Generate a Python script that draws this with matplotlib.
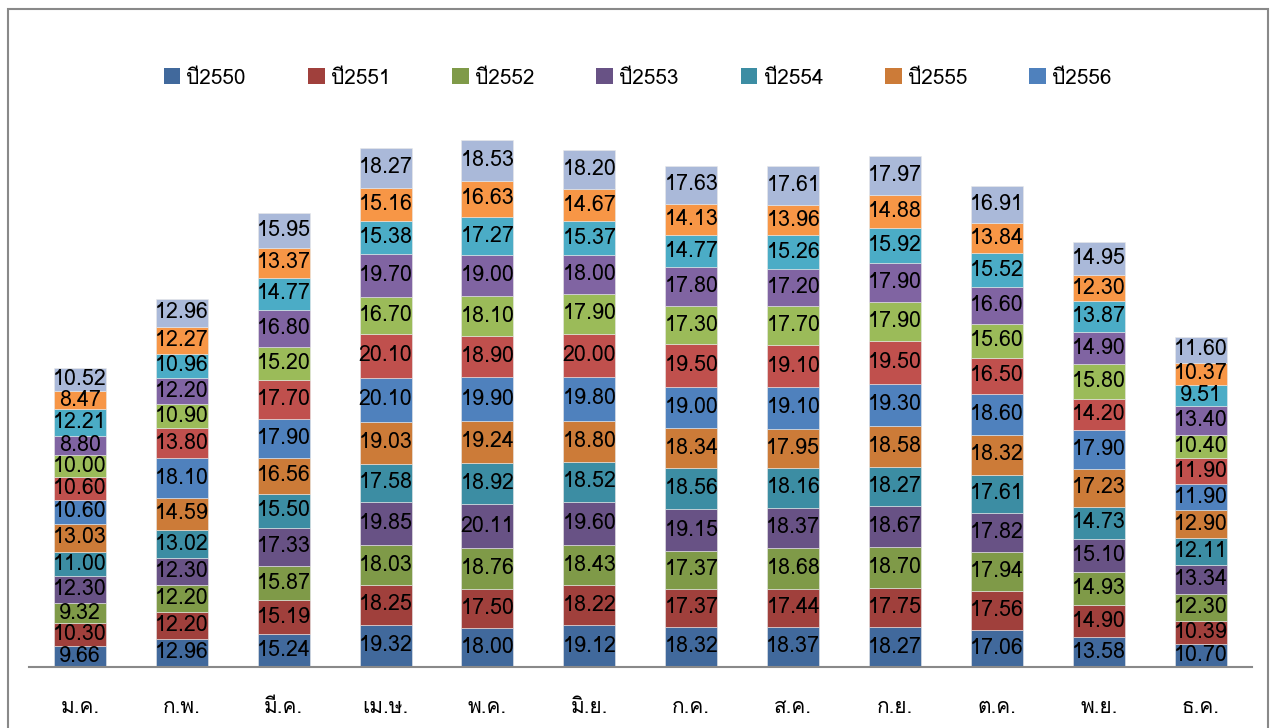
import numpy as np
import matplotlib
matplotlib.use('Agg')
import matplotlib.pyplot as plt
from matplotlib.patches import Patch

plt.rcParams['font.family'] = ['Loma', 'DejaVu Sans']

## data

months = ['ม.ค.', 'ก.พ.', 'มี.ค.', 'เม.ษ.', 'พ.ค.', 'มิ.ย.', 'ก.ค.', 'ส.ค.', 'ก.ย.', 'ต.ค.', 'พ.ย.', 'ธ.ค.']
legend_names = ['ปี2550', 'ปี2551', 'ปี2552', 'ปี2553', 'ปี2554', 'ปี2555', 'ปี2556']

# one row per series (bottom to top of each bar), one column per month
s01 = [9.66, 12.96, 15.24, 19.32, 18.00, 19.12, 18.32, 18.37, 18.27, 17.06, 13.58, 10.70]
s02 = [10.30, 12.20, 15.19, 18.25, 17.50, 18.22, 17.37, 17.44, 17.75, 17.56, 14.90, 10.39]
s03 = [9.32, 12.20, 15.87, 18.03, 18.76, 18.43, 17.37, 18.68, 18.70, 17.94, 14.93, 12.30]
s04 = [12.30, 12.30, 17.33, 19.85, 20.11, 19.60, 19.15, 18.37, 18.67, 17.82, 15.10, 13.34]
s05 = [11.00, 13.02, 15.50, 17.58, 18.92, 18.52, 18.56, 18.16, 18.27, 17.61, 14.73, 12.11]
s06 = [13.03, 14.59, 16.56, 19.03, 19.24, 18.80, 18.34, 17.95, 18.58, 18.32, 17.23, 12.90]
s07 = [10.60, 18.10, 17.90, 20.10, 19.90, 19.80, 19.00, 19.10, 19.30, 18.60, 17.90, 11.90]
s08 = [10.60, 13.80, 17.70, 20.10, 18.90, 20.00, 19.50, 19.10, 19.50, 16.50, 14.20, 11.90]
s09 = [10.00, 10.90, 15.20, 16.70, 18.10, 17.90, 17.30, 17.70, 17.90, 15.60, 15.80, 10.40]
s10 = [8.80, 12.20, 16.80, 19.70, 19.00, 18.00, 17.80, 17.20, 17.90, 16.60, 14.90, 13.40]
s11 = [12.21, 10.96, 14.77, 15.38, 17.27, 15.37, 14.77, 15.26, 15.92, 15.52, 13.87, 9.51]
s12 = [8.47, 12.27, 13.37, 15.16, 16.63, 14.67, 14.13, 13.96, 14.88, 13.84, 12.30, 10.37]
s13 = [10.52, 12.96, 15.95, 18.27, 18.53, 18.20, 17.63, 17.61, 17.97, 16.91, 14.95, 11.60]
series = [s01, s02, s03, s04, s05, s06, s07, s08, s09, s10, s11, s12, s13]

colors = ['#41699C', '#A0403C', '#7F9A48', '#685285', '#3C8DA3', '#CC7B38',
          '#4F81BD', '#C0504D', '#9BBB59', '#8064A2', '#4BACC6', '#F79646', '#AAB9D9']

## plot

fig = plt.figure(figsize=(12.75, 7.28), dpi=100)
ax = fig.add_axes([0.0227, 0.0838, 0.959, 0.751])

x = np.arange(len(months))
bottom = np.zeros(len(months))
for vals, c in zip(series, colors):
    vals = np.array(vals)
    ax.bar(x, vals, width=0.51, bottom=bottom, color=c, edgecolor='#e8e8e8', linewidth=0.4)
    for xi, b, v in zip(x, bottom, vals):
        ax.text(xi, b + v / 2, f'{v:.2f}', ha='center', va='center', fontsize=15.5, color='black')
    bottom += vals

ax.set_xlim(-0.5, 11.5)
ax.set_ylim(0, 250)
ax.set_xticks(x)
ax.set_xticklabels(months, fontsize=15)
ax.tick_params(axis='x', length=0, pad=22)
ax.set_yticks([])
for side in ['left', 'right', 'top']:
    ax.spines[side].set_visible(False)
ax.spines['bottom'].set_color('#898989')
ax.spines['bottom'].set_linewidth(1.5)

handles = [Patch(facecolor=c, edgecolor='none') for c in colors[:7]]
fig.legend(handles, legend_names, loc='center', bbox_to_anchor=(0.5, 0.893), ncol=7,
           frameon=False, fontsize=15, handlelength=0.8, handleheight=0.8,
           handletextpad=0.3, columnspacing=2.97)

# chart frame, open at the bottom edge
fig.patches.append(plt.Rectangle((0.0063, -0.01), 0.9882, 0.9976, transform=fig.transFigure,
                                 fill=False, edgecolor='#898989', linewidth=1.5))

fig.savefig('out.png')
